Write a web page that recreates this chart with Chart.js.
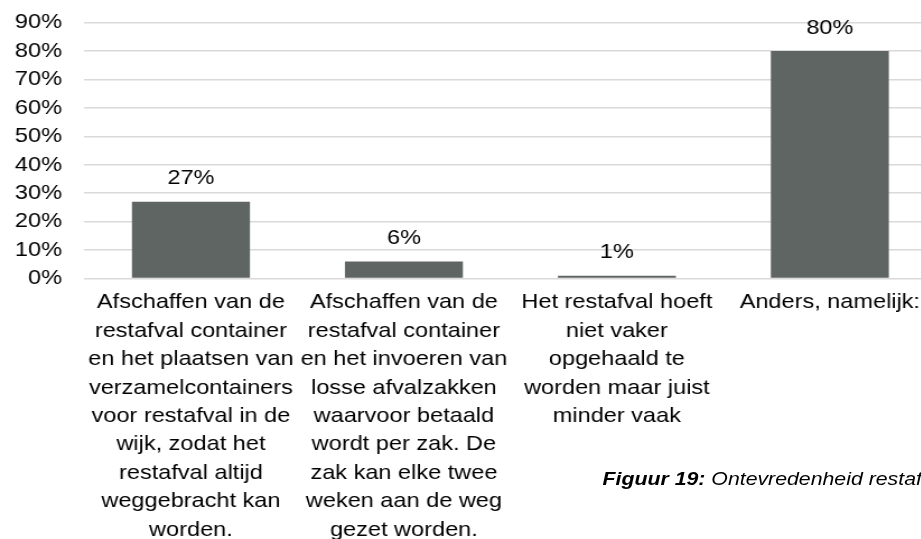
<!DOCTYPE html>
<html>
<head>
<meta charset="utf-8">
<script src="https://cdn.jsdelivr.net/npm/chart.js@4"></script>
<style>
  html, body { margin: 0; padding: 0; background: #fff; overflow: hidden; }
  #wrap {
    position: relative;
    width: 850px;
    height: 539px;
    transform: scaleX(1.12);
    transform-origin: 0 0;
  }
  #caption {
    position: absolute;
    left: 538px;
    top: 468px;
    font-family: "Liberation Sans", Arial, sans-serif;
    font-size: 19px;
    font-style: italic;
    white-space: nowrap;
    color: #000;
  }
</style>
</head>
<body>
<div id="wrap">
  <canvas id="myChart"></canvas>
  <div id="caption"><b>Figuur 19:</b> Ontevredenheid restafval</div>
</div>
<script>
// categorieen en waarden (percentages)
const categories = [
  ['Afschaffen van de', 'restafval container', 'en het plaatsen van', 'verzamelcontainers',
   'voor restafval in de', 'wijk, zodat het', 'restafval altijd', 'weggebracht kan', 'worden.'],
  ['Afschaffen van de', 'restafval container', 'en het invoeren van', 'losse afvalzakken',
   'waarvoor betaald', 'wordt per zak. De', 'zak kan elke twee', 'weken aan de weg', 'gezet worden.'],
  ['Het restafval hoeft', 'niet vaker', 'opgehaald te', 'worden maar juist', 'minder vaak'],
  ['Anders, namelijk:']
];
const percentages = [27, 6, 1, 80];
const yTicks = [0, 10, 20, 30, 40, 50, 60, 70, 80, 90];

const fontFamily = '"Liberation Sans", Arial, sans-serif';

// labels boven de staven
const valueLabels = {
  id: 'valueLabels',
  afterDatasetsDraw(chart) {
    const ctx = chart.ctx;
    const meta = chart.getDatasetMeta(0);
    ctx.save();
    ctx.font = '21px ' + fontFamily;
    ctx.fillStyle = '#000';
    ctx.textAlign = 'center';
    ctx.textBaseline = 'middle';
    meta.data.forEach((bar, i) => {
      ctx.fillText(percentages[i] + '%', bar.x, bar.y - 23);
    });
    ctx.restore();
  }
};

const ctx = document.getElementById('myChart').getContext('2d');
new Chart(ctx, {
  type: 'bar',
  data: {
    labels: categories,
    datasets: [
      {
        data: percentages,
        backgroundColor: '#5e6562',
        categoryPercentage: 1,
        barPercentage: 0.554,
      },
    ],
  },
  options: {
    responsive: true,
    maintainAspectRatio: false,
    animation: false,
    layout: {
      padding: { top: 22.5, right: 14, left: 0, bottom: 0 },
    },
    plugins: {
      legend: { display: false },
      tooltip: { enabled: false },
    },
    scales: {
      x: {
        grid: { display: false, drawTicks: false },
        border: { display: false },
        ticks: {
          color: '#000',
          autoSkip: false,
          maxRotation: 0,
          minRotation: 0,
          padding: 10,
          font: { family: fontFamily, size: 21, lineHeight: 1.352 },
        },
        afterFit(scale) {
          scale.height = 260.5;
        },
      },
      y: {
        min: 0,
        max: 90,
        afterBuildTicks(scale) {
          scale.ticks = yTicks.map(v => ({ value: v }));
        },
        grid: {
          color: '#d9d9d9',
          lineWidth: 1.5,
          drawTicks: true,
          tickLength: 20,
          tickColor: 'rgba(0,0,0,0)',
        },
        border: { display: false },
        ticks: {
          color: '#000',
          autoSkip: false,
          padding: 0,
          font: { family: fontFamily, size: 21 },
          callback: v => v + '%',
        },
        afterFit(scale) {
          scale.width = 75.4;
        },
      },
    },
  },
  plugins: [valueLabels],
});
</script>
</body>
</html>
